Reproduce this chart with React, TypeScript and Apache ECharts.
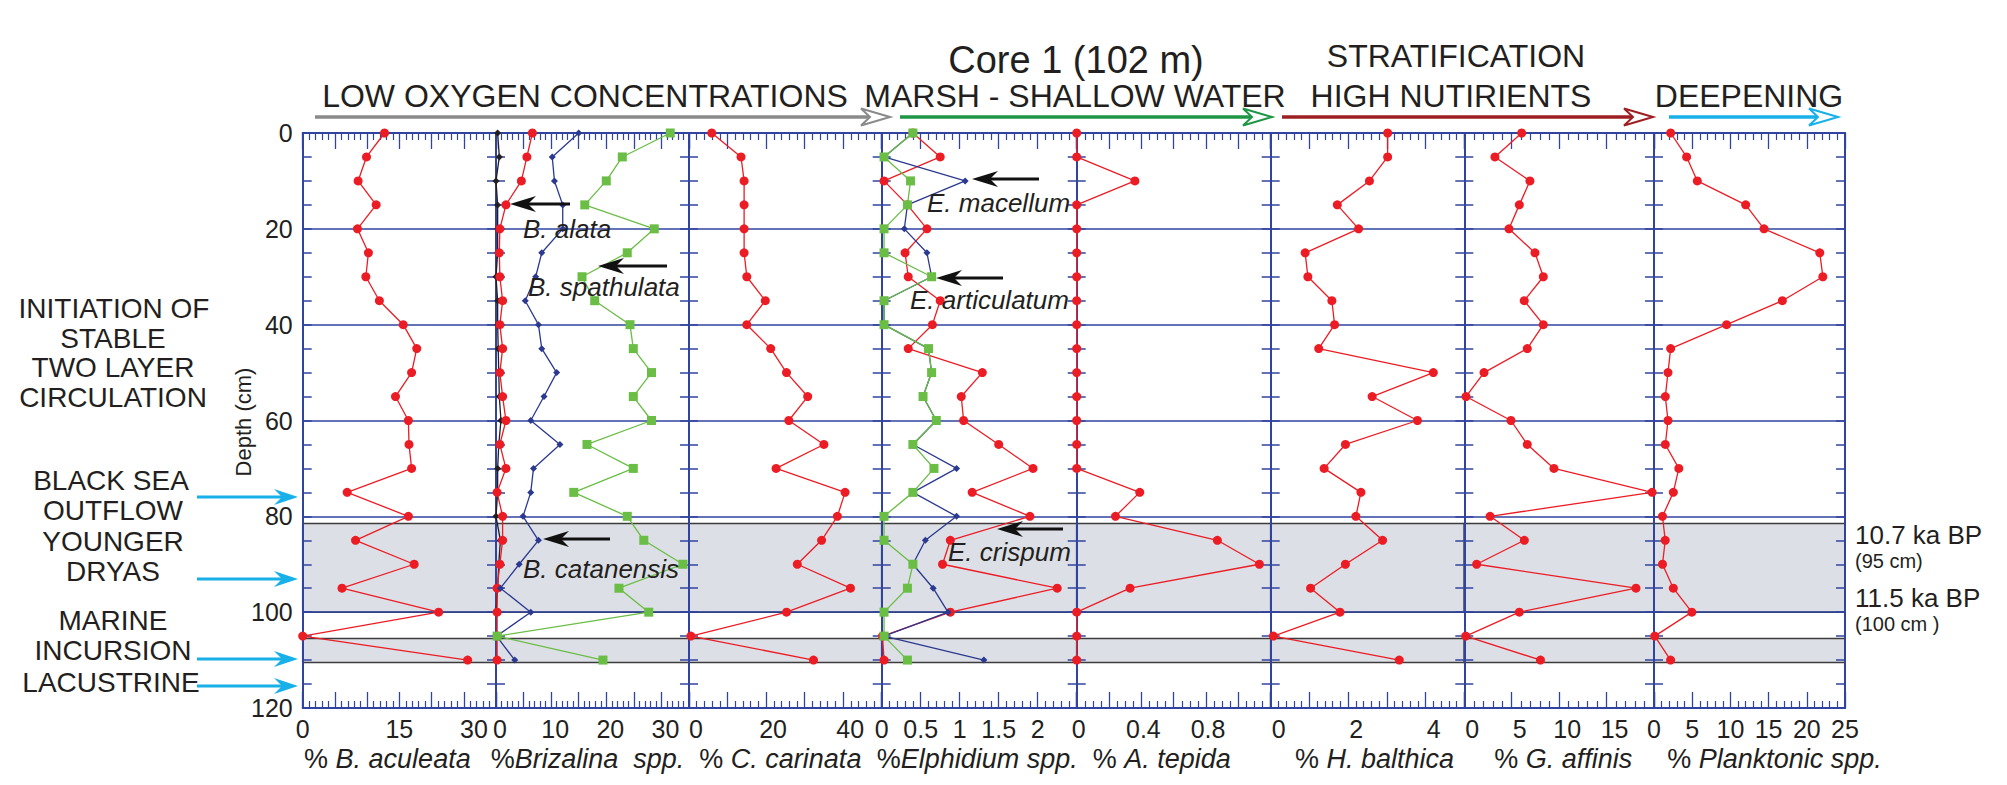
import React, { useEffect, useRef } from 'react';
import * as echarts from 'echarts';

// ---------------- data ----------------
const DEPTHS = [0, 5, 10, 15, 20, 25, 30, 35, 40, 45, 50, 55, 60, 65, 70, 75, 80, 85, 90, 95, 100, 105, 110];
const BLACK_DEPTHS = [0, 5, 10, 15, 20, 25, 30, 35, 40, 45, 50, 55, 60, 65, 70, 75, 80, 85, 90, 95, 100];

const ACULEATA = [12.7, 9.9, 8.6, 11.4, 8.5, 10.2, 9.8, 11.9, 15.6, 17.7, 16.9, 14.4, 16.4, 16.5, 16.9, 6.9, 16.4, 8.2, 17.3, 6.1, 21.1, 0, 25.6];

const BRIZ_OTHER = [0.3, 0.6, 0, 0.3, 0.3, 0.3, 0, 0.3, 0.3, 0.4, 0.5, 0.6, 0.9, 0.5, 0.3, 0.3, 0, 0.8, 0.5, 0.3, 0];
const ALATA = [6.6, 5.6, 4.6, 1.8, 0.7, 0.6, 0.7, 1.2, 0.7, 1.2, 0.7, 1.2, 1.8, 0.7, 1.8, 0.2, 1.2, 1.2, 0.7, 0.2, 0.2, 0.2, 0.2];
const CATANENSIS = [15.0, 10.2, 10.6, 12.1, 12.1, 8.3, 7.2, 5.3, 7.7, 8.3, 11.0, 8.7, 6.3, 11.6, 6.8, 6.3, 4.9, 7.7, 4.2, 0.8, 6.3, 0.1, 3.4];
const SPATHULATA = [31.6, 22.9, 20.0, 16.1, 28.7, 23.8, 15.6, 17.9, 24.3, 24.9, 28.2, 24.9, 28.2, 16.5, 24.9, 14.1, 23.8, 26.8, 33.9, 22.3, 27.7, 0.2, 19.4];

const CARINATA = [5.9, 13.5, 14.3, 14.3, 14.3, 14.3, 15.0, 19.8, 15.0, 21.2, 25.3, 30.8, 25.9, 35.0, 22.6, 40.5, 38.5, 34.4, 28.1, 41.9, 25.3, 0.5, 32.3];

const CRISPUM = [0.40, 0.75, 0.03, 0.33, 0.58, 0.30, 0.34, 0.75, 0.65, 0.34, 1.29, 1.02, 1.05, 1.50, 1.94, 1.16, 1.90, 0.88, 0.78, 2.25, 0.88, 0.01, 0.03];
const MACELLUM = [0.40, 0.03, 1.07, 0.33, 0.29, 0.58, 0.64, 0.03, 0.03, 0.60, 0.64, 0.53, 0.70, 0.40, 0.96, 0.40, 0.96, 0.56, 0.40, 0.66, 0.85, 0.03, 1.31];
const ARTICULATUM = [0.40, 0.03, 0.37, 0.33, 0.03, 0.03, 0.64, 0.03, 0.03, 0.60, 0.64, 0.53, 0.70, 0.40, 0.67, 0.40, 0.03, 0.03, 0.40, 0.33, 0.03, 0.03, 0.33];

const TEPIDA = [0, 0, 0.36, 0, 0, 0, 0, 0, 0, 0, 0, 0, 0, 0, 0, 0.39, 0.24, 0.87, 1.13, 0.33, 0, 0, 0];
const BALTHICA = [3.02, 3.02, 2.55, 1.72, 2.27, 0.89, 0.96, 1.58, 1.65, 1.24, 4.20, 2.62, 3.79, 1.93, 1.38, 2.33, 2.20, 2.89, 1.93, 1.03, 1.79, 0.07, 3.32];
const AFFINIS = [6.05, 3.23, 6.92, 5.80, 4.71, 7.45, 8.33, 6.32, 8.33, 6.64, 2.08, 0.18, 4.92, 6.64, 9.45, 19.8, 2.72, 6.33, 1.3, 18.1, 5.8, 0.15, 8.03];
const PLANKTONIC = [2.18, 4.27, 5.67, 12.0, 14.4, 21.7, 22.1, 16.8, 9.5, 2.18, 1.83, 1.48, 1.83, 1.48, 3.25, 2.53, 1.11, 1.47, 1.11, 2.53, 4.95, 0.1, 2.17];

const BANDS = [[81.5, 100], [105.5, 110.5]];

const X_MAX = [30, 35, 50, 2.5, 1.2, 5, 20, 25];
const X_MAJOR = [5, 5, 10, 0.5, 0.2, 1, 5, 5];
const X_MINOR_SPLIT = [5, 5, 5, 5, 4, 5, 5, 5];
const X_LABELS = [
  [0, 15, 30],
  [0, 10, 20, 30],
  [0, 20, 40],
  [0, 0.5, 1, 1.5, 2],
  [0, 0.4, 0.8],
  [0, 2, 4],
  [0, 5, 10, 15],
  [0, 5, 10, 15, 20, 25],
];
const TITLE_PREFIX = ['% ', '%', '% ', '%', '% ', '% ', '% ', '% '];
const TITLE_NAMES = ['B. aculeata', 'Brizalina  spp.', 'C. carinata', 'Elphidium spp.', 'A. tepida', 'H. balthica', 'G. affinis', 'Planktonic spp.'];

// ---------------- layout / style ----------------
const FONT = '"Liberation Sans", Arial, Helvetica, sans-serif';
const BLUE = '#3043a0';
const TXT = '#231f20';
const RED = '#ec1c24';
const NAVY = '#2b3990';
const GREEN = '#6abd45';
const BLACK = '#231f20';

const EDGES = [302.7, 496, 689, 881.7, 1076.7, 1270.7, 1464.3, 1654, 1845];
const TOP = 133;
const HEIGHT = 575;
const LABEL_DX = [0, 4, 7, 0, 2, 8, 8, 0];
const TITLE_DX = [-12, -5, -5, -2, -12, 7, 4, 25];

type Line = { name: string; values: number[]; depths?: number[]; color: string; symbol: string; size: number };
const PANELS: Line[][] = [
  [{ name: 'B. aculeata', values: ACULEATA, color: RED, symbol: 'circle', size: 9 }],
  [
    { name: 'Brizalina sp.', values: BRIZ_OTHER, depths: BLACK_DEPTHS, color: BLACK, symbol: 'diamond', size: 7 },
    { name: 'B. alata', values: ALATA, color: RED, symbol: 'circle', size: 9 },
    { name: 'B. catanensis', values: CATANENSIS, color: NAVY, symbol: 'diamond', size: 7 },
    { name: 'B. spathulata', values: SPATHULATA, color: GREEN, symbol: 'rect', size: 9 },
  ],
  [{ name: 'C. carinata', values: CARINATA, color: RED, symbol: 'circle', size: 9 }],
  [
    { name: 'E. crispum', values: CRISPUM, color: RED, symbol: 'circle', size: 9 },
    { name: 'E. macellum', values: MACELLUM, color: NAVY, symbol: 'diamond', size: 7 },
    { name: 'E. articulatum', values: ARTICULATUM, color: GREEN, symbol: 'rect', size: 9 },
  ],
  [{ name: 'A. tepida', values: TEPIDA, color: RED, symbol: 'circle', size: 9 }],
  [{ name: 'H. balthica', values: BALTHICA, color: RED, symbol: 'circle', size: 9 }],
  [{ name: 'G. affinis', values: AFFINIS, color: RED, symbol: 'circle', size: 9 }],
  [{ name: 'Planktonic spp.', values: PLANKTONIC, color: RED, symbol: 'circle', size: 9 }],
];

function labelFormatter(i: number) {
  const labels = X_LABELS[i];
  return (v: number) => {
    const hit = labels.find((l) => Math.abs(l - v) < 1e-6);
    if (hit === undefined) return '';
    if (i === 0 && hit === labels[labels.length - 1]) return `{s|${hit}}`;
    return String(hit);
  };
}

function headingArrow(x1: number, tip: number, y: number, color: string) {
  return [
    { type: 'line', z: 20, shape: { x1, y1: y, x2: tip - 18, y2: y }, style: { stroke: color, lineWidth: 3.5 } },
    {
      type: 'polygon', z: 21,
      shape: { points: [[tip, y], [tip - 29, y - 8.5], [tip - 20, y], [tip - 29, y + 8.5]] },
      style: { fill: '#ffffff', stroke: color, lineWidth: 2 },
    },
  ];
}
function pointerLeft(x1: number, tip: number, y: number) {
  return [
    { type: 'line', z: 20, shape: { x1, y1: y, x2: tip + 14, y2: y }, style: { stroke: '#111', lineWidth: 3 } },
    {
      type: 'polygon', z: 21,
      shape: { points: [[tip, y], [tip + 26, y - 8], [tip + 18, y], [tip + 26, y + 8]] },
      style: { fill: '#111' },
    },
  ];
}
function cyanArrow(x1: number, tip: number, y: number) {
  const c = '#17b0e8';
  return [
    { type: 'line', z: 20, shape: { x1, y1: y, x2: tip - 12, y2: y }, style: { stroke: c, lineWidth: 3 } },
    {
      type: 'polygon', z: 21,
      shape: { points: [[tip, y], [tip - 24, y - 8], [tip - 16, y], [tip - 24, y + 8]] },
      style: { fill: c },
    },
  ];
}
function txt(text: string, x: number, y: number, size: number, align = 'center', italic = false) {
  return {
    type: 'text', z: 22, x, y,
    style: {
      text, fill: TXT, fontSize: size, fontFamily: FONT, fontStyle: italic ? 'italic' : 'normal',
      align, verticalAlign: 'middle',
    },
  };
}

function buildOption() {
  const grids = EDGES.slice(0, 8).map((l, i) => ({
    left: l, top: TOP, width: EDGES[i + 1] - l, height: HEIGHT, containLabel: false,
  }));

  const xAxis: any[] = [];
  const yAxis: any[] = [];
  const series: any[] = [];

  for (let i = 0; i < 8; i++) {
    const common = {
      gridIndex: i, type: 'value', min: 0, max: X_MAX[i], interval: X_MAJOR[i], z: 3,
      axisLine: { show: true, onZero: false, lineStyle: { color: BLUE, width: 2 } },
      axisTick: { show: true, inside: true, length: 16, lineStyle: { color: BLUE, width: 1.3 } },
      minorTick: { show: true, splitNumber: X_MINOR_SPLIT[i], length: 7, lineStyle: { color: BLUE, width: 1.2 } },
      splitLine: { show: false },
    };
    const dx = TITLE_DX[i];
    xAxis.push({
      ...common,
      position: 'bottom',
      axisLabel: {
        show: true, fontSize: 25, color: TXT, fontFamily: FONT, margin: 8,
        padding: [0, 0, 0, 2 * LABEL_DX[i]],
        showMinLabel: true, showMaxLabel: true,
        formatter: labelFormatter(i),
        rich: { s: { fontSize: 25, color: TXT, fontFamily: FONT, padding: [0, 44, 0, 0] } },
      },
      name: `{n|${TITLE_PREFIX[i]}}{i|${TITLE_NAMES[i]}}`,
      nameLocation: 'middle',
      nameGap: 36,
      nameTextStyle: {
        color: TXT, fontSize: 27, fontFamily: FONT,
        padding: dx >= 0 ? [0, 0, 0, 2 * dx] : [0, -2 * dx, 0, 0],
        rich: {
          n: { fontSize: 27, color: TXT, fontFamily: FONT },
          i: { fontSize: 27, color: TXT, fontFamily: FONT, fontStyle: 'italic' },
        },
      },
    });
    xAxis.push({ ...common, position: 'top', axisLabel: { show: false } });

    const ycommon = {
      gridIndex: i, type: 'value', inverse: true, min: 0, max: 120, interval: 20, z: 3,
      axisLine: { show: true, onZero: false, lineStyle: { color: BLUE, width: 2 } },
      axisTick: { show: true, inside: true, length: 9, lineStyle: { color: BLUE, width: 1.5 } },
      minorTick: { show: true, splitNumber: 4, length: 9, lineStyle: { color: BLUE, width: 1.5 } },
    };
    yAxis.push({
      ...ycommon,
      position: 'left',
      splitLine: { show: true, lineStyle: { color: BLUE, width: 1.5 } },
      axisLabel: { show: i === 0, fontSize: 25, color: TXT, fontFamily: FONT, margin: 10 },
    });
    yAxis.push({
      ...ycommon,
      position: 'right',
      splitLine: { show: false },
      axisLabel: { show: false },
    });

    PANELS[i].forEach((ln, k) => {
      const d = ln.depths || DEPTHS;
      series.push({
        type: 'line',
        name: ln.name,
        xAxisIndex: 2 * i,
        yAxisIndex: 2 * i,
        z: 10 + k,
        clip: false,
        data: ln.values.map((v, j) => [v, d[j]]),
        symbol: ln.symbol,
        symbolSize: ln.size,
        showSymbol: true,
        itemStyle: { color: ln.color },
        lineStyle: { color: ln.color, width: 1.3 },
        markArea: k === 0 ? {
          silent: true, z: 1,
          itemStyle: { color: '#dcdfe5', borderColor: '#3c3c3c', borderWidth: 1.5 },
          label: { show: false },
          data: BANDS.map((b) => [{ yAxis: b[0] }, { yAxis: b[1] }]),
        } : undefined,
      });
    });
  }

  const graphic: any[] = [
    txt('Core 1 (102 m)', 1076, 60, 38),
    txt('LOW OXYGEN CONCENTRATIONS', 585, 96, 32),
    txt('MARSH - SHALLOW WATER', 1075, 96, 32),
    txt('STRATIFICATION', 1456, 56, 32),
    txt('HIGH NUTIRIENTS', 1451, 96, 32),
    txt('DEEPENING', 1749, 96, 32),
    ...headingArrow(315, 890, 117, '#8a8a8a'),
    ...headingArrow(900, 1272, 117, '#1e9645'),
    ...headingArrow(1282, 1653, 117, '#9e1f23'),
    ...headingArrow(1669, 1838, 117, '#17b0e8'),

    txt('INITIATION OF', 114, 308, 28),
    txt('STABLE', 113, 338, 28),
    txt('TWO LAYER', 113, 367, 28),
    txt('CIRCULATION', 113, 397, 28),
    txt('BLACK SEA', 111, 480, 28),
    txt('OUTFLOW', 113, 510, 28),
    txt('YOUNGER', 113, 541, 28),
    txt('DRYAS', 113, 571, 28),
    txt('MARINE', 113, 620, 28),
    txt('INCURSION', 113, 650, 28),
    txt('LACUSTRINE', 111, 682, 28),
    ...cyanArrow(197, 298, 497),
    ...cyanArrow(197, 298, 579),
    ...cyanArrow(197, 298, 659),
    ...cyanArrow(197, 298, 686),

    {
      type: 'text', z: 22, x: 243, y: 422, rotation: Math.PI / 2,
      style: { text: 'Depth (cm)', fill: TXT, fontSize: 22, fontFamily: FONT, align: 'center', verticalAlign: 'middle' },
    },

    txt('B. alata', 523, 229, 26, 'left', true),
    txt('B. spathulata', 528, 287, 26, 'left', true),
    txt('B. catanensis', 523, 569, 26, 'left', true),
    txt('E. macellum', 927, 203, 26, 'left', true),
    txt('E. articulatum', 910, 300, 26, 'left', true),
    txt('E. crispum', 948, 552, 26, 'left', true),
    ...pointerLeft(570, 510, 204),
    ...pointerLeft(667, 598, 266),
    ...pointerLeft(610, 543, 539),
    ...pointerLeft(1039, 972, 179),
    ...pointerLeft(1003, 936, 278),
    ...pointerLeft(1063, 997, 529),

    txt('10.7 ka BP', 1855, 535, 26, 'left'),
    txt('(95 cm)', 1855, 561, 20, 'left'),
    txt('11.5 ka BP', 1855, 598, 26, 'left'),
    txt('(100 cm )', 1855, 624, 20, 'left'),
  ];

  return {
    animation: false,
    backgroundColor: '#ffffff',
    textStyle: { fontFamily: FONT },
    grid: grids,
    xAxis,
    yAxis,
    series,
    graphic,
  };
}

export default function App() {
  const ref = useRef<HTMLDivElement>(null);
  useEffect(() => {
    const chart = echarts.init(ref.current as HTMLDivElement, null, { renderer: 'svg' });
    chart.setOption(buildOption() as any);
    return () => chart.dispose();
  }, []);
  return (
    <div
      ref={ref}
      style={{ position: 'absolute', left: 0, top: 0, width: 2007, height: 785, background: '#fff' }}
    />
  );
}
